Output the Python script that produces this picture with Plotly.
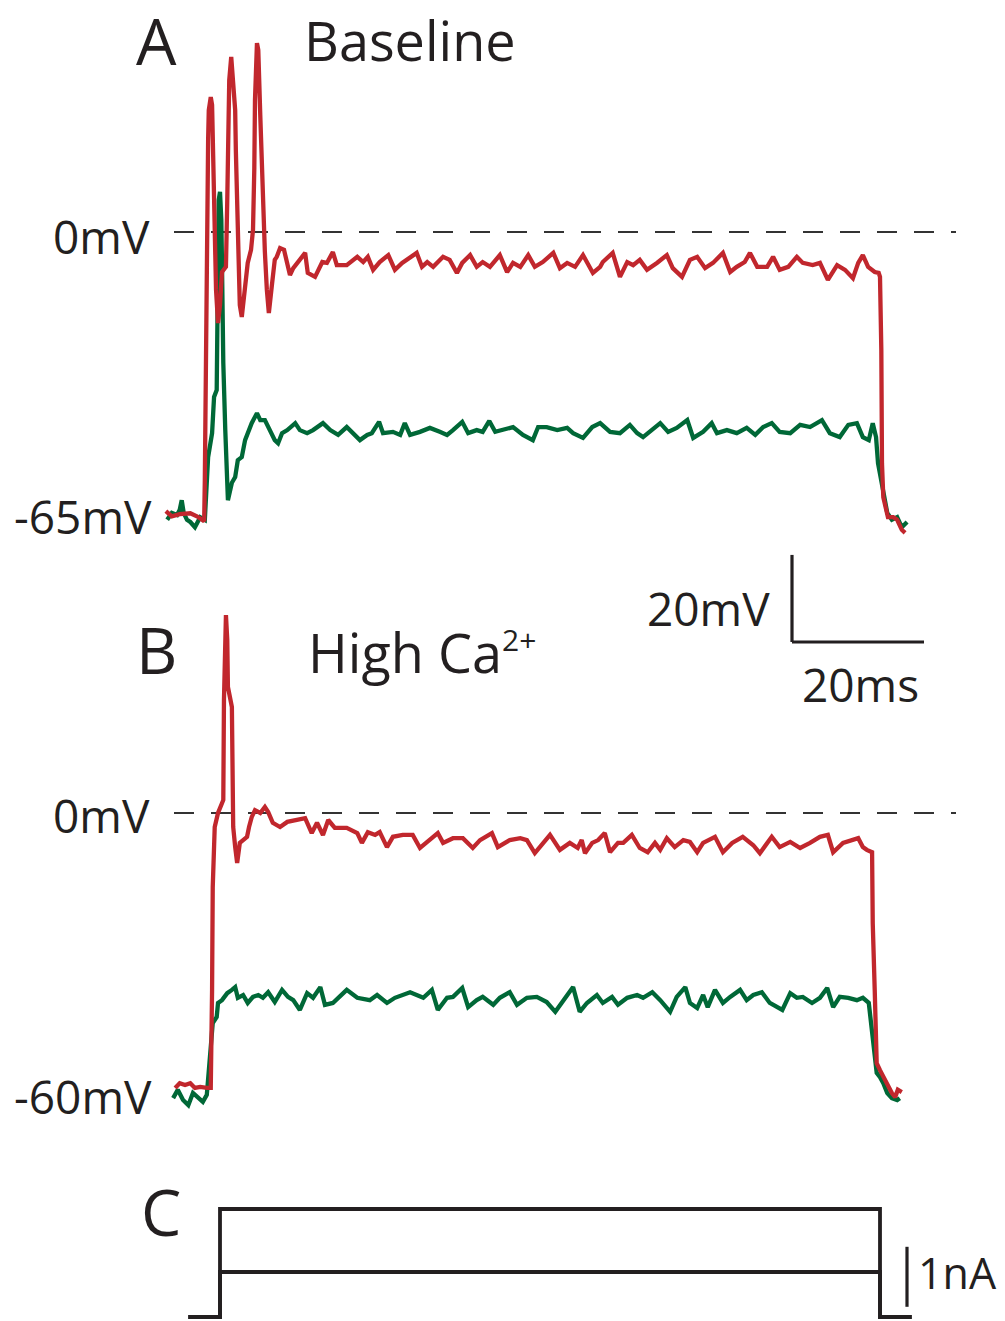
import plotly.graph_objects as go

# ---------------- data (time in ms from current-step onset, voltage in mV) ----------------
# Panel A (Baseline) - red trace
a_red_t = [-8.2, -7.3, -6.1, -4.5, -3.5, -2.6, -2.4, -2.3, -2.1, -2.0, -1.8, -1.7, -1.4, -1.2, -1.1,
           -0.9, -0.8, -0.6, -0.3, 0.0, 0.3, 0.9, 1.1, 1.2, 1.4, 1.7, 2.0, 2.3, 2.4, 2.6, 2.7, 3.0,
           3.3, 3.6, 3.9, 4.2, 4.7, 5.0, 5.2, 5.3, 5.6, 5.8, 6.1, 6.5, 6.8, 7.1, 7.4, 7.9, 8.3, 8.6,
           9.1, 9.7, 10.2, 10.6, 11.1, 11.7, 12.9, 13.3, 14.4, 15.5, 16.2, 17.1, 17.7, 19.2, 20.8,
           21.7, 22.4, 23.2, 24.2, 25.5, 26.5, 27.6, 29.8, 30.6, 31.4, 32.3, 33.8, 34.8, 35.9, 36.7,
           37.9, 38.9, 39.8, 40.9, 42.4, 43.5, 44.4, 45.5, 46.7, 47.7, 48.9, 50.5, 51.5, 52.6, 53.8,
           55.0, 56.5, 57.6, 58.0, 59.5, 60.6, 61.7, 62.6, 63.6, 64.7, 66.2, 67.7, 68.6, 70.0, 71.2,
           72.3, 73.5, 74.7, 76.2, 77.3, 78.3, 79.5, 80.3, 81.4, 82.9, 83.8, 84.8, 86.1, 87.4, 88.3,
           89.8, 90.9, 92.1, 93.5, 94.7, 95.9, 96.7, 97.4, 98.2, 99.2, 99.8, 100.0, 100.2, 100.3,
           100.5, 101.2, 102.0, 102.6, 103.3, 103.8]
a_red_v = [-64.1, -65.3, -64.8, -64.6, -65.3, -66.1, -66.4, -57.0, -15.6, 7.3, 21.1, 28.0, 31.0, 29.2, 21.1,
           7.3, -4.1, -13.3, -20.9, -16.8, -9.2, -8.0, 7.3, 23.4, 34.9, 40.2, 34.9, 28.0, 18.8, 6.9, -8.3, -16.8,
           -19.5, -15.6, -12.6, -7.1, -4.1, 0.5, 14.7, 30.3, 43.4, 41.8, 26.9, 6.9, -4.6, -13.3, -18.6, -11.7, -6.4, -5.7,
           -3.7, -4.1, -7.1, -9.9, -8.3, -7.1, -4.8, -9.4, -10.3, -6.9, -7.1, -4.6, -7.6, -7.6, -5.7,
           -6.9, -5.7, -8.7, -6.9, -5.3, -8.7, -7.1, -4.8, -8.0, -6.9, -8.0, -5.7, -6.4, -9.4, -7.1,
           -5.3, -8.0, -6.9, -8.0, -5.3, -9.2, -7.1, -8.0, -5.3, -8.0, -6.9, -4.8, -8.3, -7.1, -8.0,
           -5.3, -9.4, -8.0, -6.9, -4.8, -10.3, -6.9, -7.6, -6.4, -8.7, -7.1, -5.3, -8.3, -10.3, -6.4,
           -5.7, -8.3, -7.1, -4.8, -9.2, -8.0, -6.9, -4.8, -8.0, -8.0, -5.7, -8.7, -8.0, -5.7, -7.1,
           -7.6, -7.1, -11.0, -7.6, -8.7, -10.6, -7.1, -5.3, -8.0, -9.2, -9.4, -10.3, -27.1, -53.1,
           -60.9, -65.5, -65.5, -66.1, -68.4, -69.1]

# Panel A (Baseline) - green trace
a_green_t = [-8.0, -7.3, -6.5, -6.1, -5.8, -5.5, -5.0, -4.5, -3.8, -3.0, -2.3, -1.8, -1.2, -0.9, -0.5,
             -0.3, -0.2, 0.0, 0.2, 0.3, 0.5, 0.8, 1.1, 1.2, 1.8, 2.3, 2.7, 3.3, 3.8, 4.2, 4.8, 5.6, 6.1,
             6.8, 7.6, 8.3, 8.8, 9.4, 10.2, 11.4, 12.1, 13.2, 14.1, 15.6, 16.7, 17.9, 19.2, 21.2, 22.3,
             23.0, 24.1, 24.7, 26.2, 27.3, 28.0, 28.8, 30.3, 31.8, 33.3, 34.4, 35.3, 36.7, 37.6, 38.9,
             39.8, 40.8, 41.7, 42.9, 44.4, 45.9, 47.4, 48.2, 49.5, 51.1, 52.6, 53.5, 55.0, 56.4, 57.6,
             59.1, 60.6, 62.1, 63.2, 64.1, 65.5, 66.7, 67.9, 69.2, 70.8, 71.7, 73.2, 74.5, 75.3, 76.8,
             78.3, 79.8, 81.1, 82.3, 83.6, 84.8, 86.4, 87.9, 89.4, 91.2, 92.4, 93.9, 95.2, 96.5, 97.4,
             98.3, 98.9, 99.4, 99.7, 100.5, 101.1, 101.8, 102.6, 103.3, 104.1]
a_green_v = [-66.1, -64.5, -65.0, -63.8, -61.6, -64.5, -66.1, -66.6, -67.8, -65.5, -66.1, -51.7, -46.2, -37.9, -36.3,
             -7.1, 7.3, 9.2, 2.8, -7.1, -30.1, -45.5, -58.6, -61.6, -57.6, -56.3, -52.4, -51.7, -47.8, -46.2, -43.9, -41.6, -43.2,
             -43.2, -45.5, -47.8, -48.5, -46.2, -45.5, -43.9, -45.5, -46.2, -45.5, -43.9, -45.5, -46.6, -44.8, -47.8, -46.6,
             -46.2, -43.6, -46.2, -45.9, -46.6, -43.9, -46.6, -45.9, -45.0, -45.9, -46.6, -45.5, -43.6, -46.2, -45.5,
             -45.9, -43.4, -45.9, -45.5, -44.8, -46.6, -47.8, -44.8, -44.8, -45.5, -45.0, -46.2, -47.3, -44.8, -43.9,
             -45.9, -46.2, -44.3, -46.2, -47.1, -45.5, -43.9, -45.9, -45.0, -43.2, -47.3, -45.9, -43.9, -46.2, -45.5,
             -46.2, -45.0, -46.6, -44.8, -43.9, -45.9, -46.2, -44.3, -44.8, -43.2, -46.2, -47.1, -44.3, -43.9, -47.1,
             -47.8, -43.9, -47.1, -53.1, -59.3, -64.5, -66.1, -65.5, -67.8, -66.6]

# Panel B (High Ca2+) - red trace
b_red_t = [-6.8, -6.1, -5.3, -4.5, -3.8, -3.0, -2.0, -1.4, -1.2, -1.1, -0.8, -0.3, 0.3, 0.5, 0.6, 0.9,
           1.1, 1.2, 1.8, 2.0, 2.3, 2.6, 3.0, 3.5, 4.1, 4.4, 4.8, 5.3, 6.1, 6.8, 7.3, 8.0, 9.1, 10.2,
           11.7, 12.9, 13.9, 14.7, 15.6, 16.4, 17.4, 19.2, 20.8, 21.5, 22.4, 23.5, 24.2, 25.3, 26.2,
           27.7, 29.2, 30.3, 31.4, 33.0, 33.8, 35.3, 36.8, 38.3, 39.4, 41.2, 42.1, 43.9, 45.5, 46.5,
           47.7, 48.9, 50.0, 51.5, 53.0, 54.2, 54.8, 55.3, 56.4, 57.3, 58.3, 59.1, 60.3, 61.1, 62.4,
           63.6, 64.8, 65.9, 66.7, 67.7, 68.9, 70.2, 71.2, 72.3, 73.2, 75.0, 76.2, 77.6, 79.2, 80.8,
           81.8, 83.6, 84.8, 86.4, 87.9, 89.4, 90.9, 92.1, 92.9, 94.4, 95.9, 96.7, 97.4, 98.0, 98.8,
           98.9, 99.2, 99.5, 100.0, 100.5, 101.2, 101.8, 102.3, 102.7, 103.3]
b_red_v = [-58.9, -57.9, -58.3, -57.9, -58.9, -58.7, -58.9, -58.9, -37.9, -15.9, -3.0, 0.0, 2.1, 2.8, 24.2, 42.4,
           37.1, 27.0, 22.7, -3.0, -7.3, -10.7, -6.4, -5.8, -5.1, -3.0, -0.9, 0.6, 0.0, 1.3, 0.2, -2.1, -3.0, -1.9,
           -1.5, -1.1, -4.3, -2.1, -4.7, -1.5, -3.2, -3.2, -4.3, -6.4, -4.1, -4.7, -4.1, -7.3, -5.1,
           -4.7, -4.7, -7.5, -6.2, -4.3, -6.4, -5.4, -5.4, -7.5, -5.8, -4.3, -7.3, -5.8, -5.4, -5.8,
           -8.6, -6.4, -4.7, -7.9, -6.4, -7.5, -5.8, -8.6, -6.4, -5.8, -4.3, -8.4, -6.4, -6.4, -4.7,
           -7.5, -8.4, -6.4, -7.9, -5.4, -7.3, -5.8, -6.2, -8.4, -6.4, -5.1, -8.4, -6.4, -5.1, -6.9,
           -8.6, -5.1, -7.3, -6.2, -7.5, -6.4, -5.1, -4.7, -8.4, -6.4, -5.8, -5.4, -7.3, -7.9, -8.4,
           -23.6, -37.9, -53.6, -55.1, -56.6, -58.7, -60.0, -60.9, -59.3, -59.8]

# Panel B (High Ca2+) - green trace
b_green_t = [-7.1, -6.4, -5.6, -4.8, -4.1, -3.3, -2.6, -2.0, -1.5, -1.1, -0.5, -0.3, 0.3, 1.1, 1.8, 2.3,
             2.7, 3.5, 4.2, 5.0, 5.8, 6.5, 7.3, 8.3, 9.4, 10.3, 11.1, 12.1, 13.2, 14.1, 15.2, 15.9, 17.1,
             19.2, 20.8, 22.7, 23.8, 25.3, 26.5, 28.8, 30.8, 32.1, 33.0, 34.4, 35.3, 36.7, 37.6, 38.9,
             39.8, 41.4, 42.4, 43.9, 45.0, 46.5, 48.0, 49.5, 50.8, 52.0, 53.5, 54.5, 55.6, 57.1, 58.0,
             59.4, 60.3, 61.7, 63.2, 64.1, 65.5, 66.7, 68.2, 69.2, 70.5, 71.2, 72.3, 73.2, 73.9, 75.0,
             76.2, 77.3, 78.8, 79.8, 80.8, 82.1, 83.3, 85.2, 86.4, 87.4, 88.3, 89.7, 90.9, 92.0, 92.9,
             93.9, 95.2, 96.5, 97.4, 98.3, 98.9, 99.2, 99.5, 100.0, 100.5, 101.1, 101.8, 102.6, 103.0]
b_green_v = [-61.1, -59.3, -61.5, -62.6, -60.0, -61.1, -61.9, -60.4, -50.1, -45.0, -43.7, -40.7, -40.1, -38.6, -37.9, -37.3,
             -39.6, -39.0, -40.7, -39.4, -39.0, -39.6, -38.4, -40.5, -37.9, -39.4, -40.1, -42.2, -38.6, -39.6, -37.3, -41.1, -40.7,
             -37.9, -39.6, -40.1, -39.0, -40.7, -39.6, -38.4, -39.6, -37.9, -42.2, -39.6, -39.4, -37.5, -41.6, -40.1,
             -39.4, -41.1, -39.6, -38.4, -41.1, -39.6, -39.4, -40.5, -42.6, -40.1, -37.3, -42.6, -40.7, -39.0, -40.7,
             -39.4, -41.1, -39.6, -39.0, -39.6, -38.4, -40.1, -42.6, -39.4, -37.3, -40.7, -41.8, -39.0, -41.6, -37.9,
             -40.7, -39.4, -37.9, -40.1, -39.0, -38.4, -40.7, -42.2, -38.6, -39.6, -39.4, -40.7, -39.6, -37.5, -41.6,
             -39.4, -39.6, -40.1, -39.6, -40.7, -49.3, -52.3, -55.7, -56.6, -57.9, -60.0, -61.1, -61.5, -61.1]

# Panel C - injected current steps (nA)
c_t = [-4.8, 0.0, 100.0, 104.8]
c_high_nA = [0.0, 1.8, 0.0, 0.0]
c_low_nA = [0.0, 0.75, 0.0, 0.0]

# scale bars
bar_ms = 20
bar_mv = 20
bar_na = 1

# ---------------- layout geometry (target pixels in the page) ----------------
W, H = 1005, 1321
OFF = 8  # page body margin offsets the figure by 8 px; compensate
X0_PX, PX_PER_MS = 220 - OFF, 6.6
A_ZERO_PX, A_PX_PER_MV = 232 - OFF, 4.354
B_ZERO_PX, B_PX_PER_MV = 813 - OFF, 4.667
C_ZERO_PX, C_PX_PER_NA = 1317 - OFF, 60.0

def yrange(zero_px, per):
    top = zero_px / per
    return [top - H / per, top]

x_rng = [-X0_PX / PX_PER_MS, (W - X0_PX) / PX_PER_MS]

def t_of(px):
    return (px - OFF - X0_PX) / PX_PER_MS

RED = "#C1272D"
GREEN = "#006837"
INK = "#231F20"
LW = 4.3

fig = go.Figure()
fig.add_trace(go.Scatter(x=a_green_t, y=a_green_v, mode="lines", line=dict(color=GREEN, width=LW), yaxis="y"))
fig.add_trace(go.Scatter(x=a_red_t, y=a_red_v, mode="lines", line=dict(color=RED, width=LW), yaxis="y"))
fig.add_trace(go.Scatter(x=b_green_t, y=b_green_v, mode="lines", line=dict(color=GREEN, width=LW), yaxis="y2"))
fig.add_trace(go.Scatter(x=b_red_t, y=b_red_v, mode="lines", line=dict(color=RED, width=LW), yaxis="y2"))
fig.add_trace(go.Scatter(x=c_t, y=c_high_nA, mode="lines", line=dict(color=INK, width=3.8, shape="hv"), yaxis="y3"))
fig.add_trace(go.Scatter(x=c_t, y=c_low_nA, mode="lines", line=dict(color=INK, width=3.8, shape="hv"), yaxis="y3"))

shapes = []
for yr in ("y", "y2"):
    shapes.append(dict(type="line", xref="x", yref=yr, x0=t_of(174), x1=t_of(956), y0=0, y1=0,
                       line=dict(color="#333333", width=2.2, dash="20px,17px"), layer="below"))

# 20 mV / 20 ms scale bar (on panel A's axes)
sb_t = t_of(792)
sb_v = (A_ZERO_PX - (642 - OFF)) / A_PX_PER_MV
shapes.append(dict(type="line", xref="x", yref="y", x0=sb_t, x1=sb_t, y0=sb_v, y1=sb_v + bar_mv,
                   line=dict(color=INK, width=3.2)))
shapes.append(dict(type="line", xref="x", yref="y", x0=sb_t, x1=sb_t + bar_ms, y0=sb_v, y1=sb_v,
                   line=dict(color=INK, width=3.2)))
# 1 nA scale bar
na_t = t_of(907)
shapes.append(dict(type="line", xref="x", yref="y3", x0=na_t, x1=na_t, y0=0.17, y1=0.17 + bar_na,
                   line=dict(color=INK, width=3.2)))

FONT = "Open Sans"

def ann(text, px, py, size, xanchor="center"):
    return dict(text=text, x=(px - OFF) / W, y=1 - (py - OFF) / H, xref="paper", yref="paper",
                showarrow=False, xanchor=xanchor, yanchor="middle",
                font=dict(family=FONT, size=size, color=INK))

annotations = [
    ann("A", 156, 40, 64),
    ann("Baseline", 410, 40, 54),
    ann("0mV", 101, 236, 46),
    ann("-65mV", 83, 516, 46),
    ann("20mV", 708, 608, 46),
    ann("20ms", 860, 684, 46),
    ann("B", 156, 650, 64),
    ann("High Ca", 306, 652, 54, xanchor="left"),
    ann("2+", 500, 640, 30, xanchor="left"),
    ann("0mV", 101, 815, 46),
    ann("-60mV", 83, 1096, 46),
    ann("C", 161, 1211, 64),
    ann("1nA", 916, 1272, 43, xanchor="left"),
]

fig.update_layout(
    width=W, height=H, margin=dict(l=0, r=0, t=0, b=0),
    paper_bgcolor="white", plot_bgcolor="white", showlegend=False,
    xaxis=dict(range=x_rng, visible=False, domain=[0, 1]),
    yaxis=dict(range=yrange(A_ZERO_PX, A_PX_PER_MV), visible=False, domain=[0, 1]),
    yaxis2=dict(range=yrange(B_ZERO_PX, B_PX_PER_MV), visible=False, overlaying="y"),
    yaxis3=dict(range=yrange(C_ZERO_PX, C_PX_PER_NA), visible=False, overlaying="y"),
    shapes=shapes, annotations=annotations,
)

fig.write_html("out.html")
